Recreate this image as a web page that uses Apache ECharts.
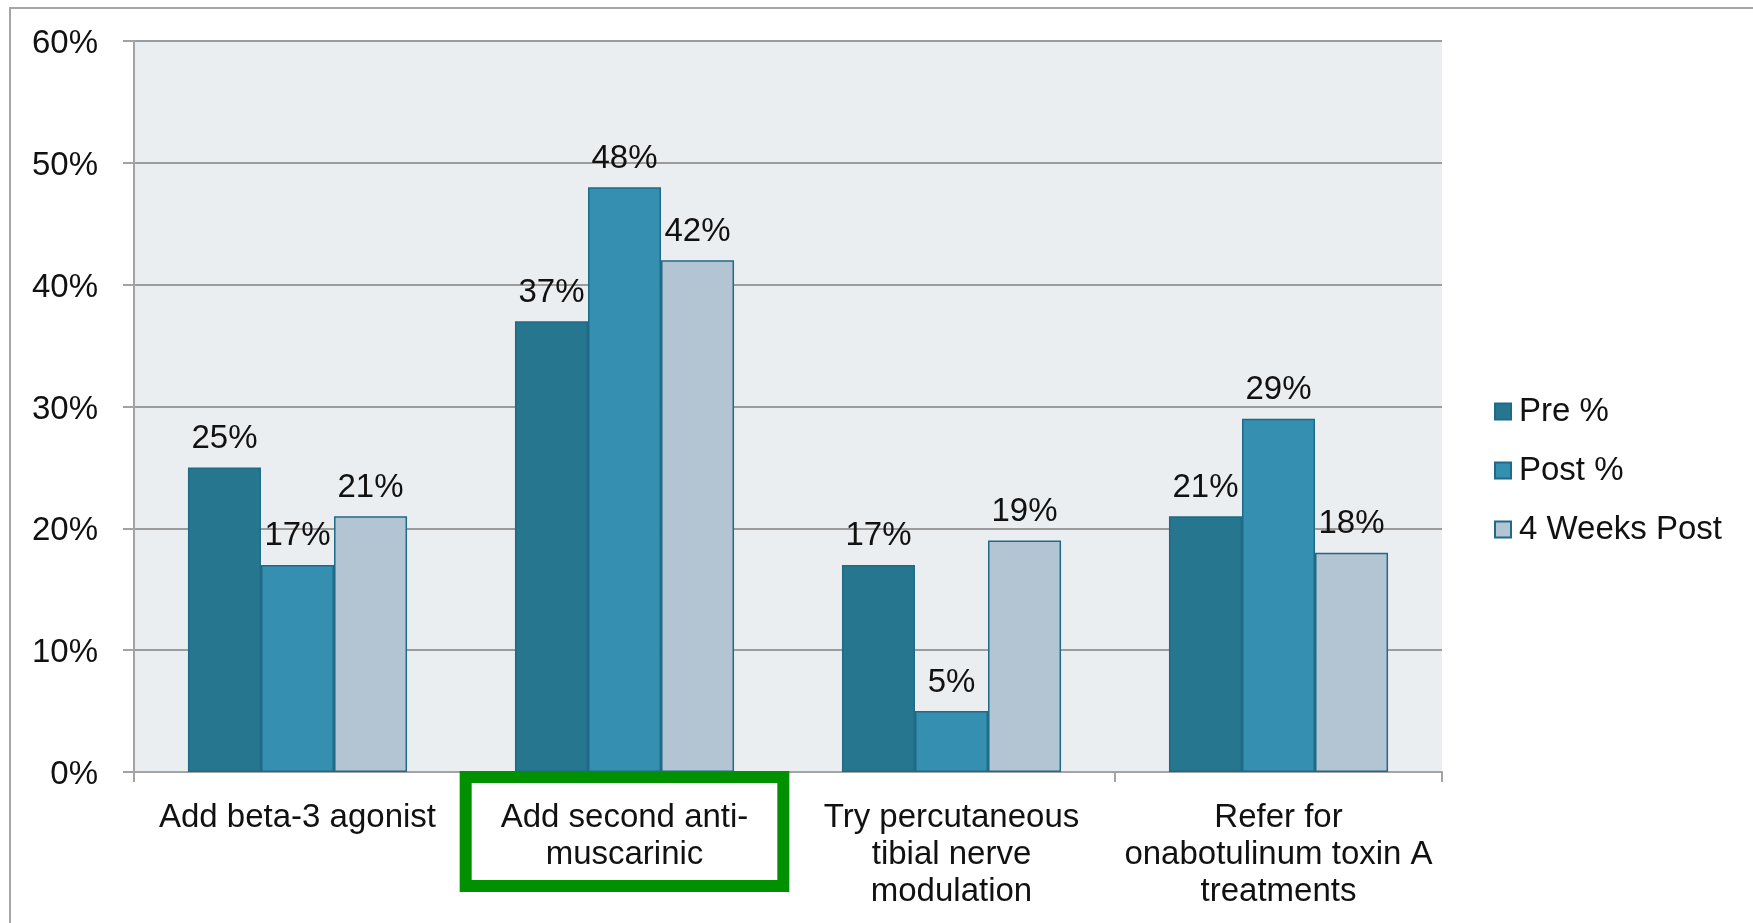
<!DOCTYPE html>
<html>
<head>
<meta charset="utf-8">
<script src="https://cdn.jsdelivr.net/npm/echarts@6/dist/echarts.min.js"></script>
<style>
  html, body { margin: 0; padding: 0; background: #ffffff; }
  #chart { width: 1753px; height: 923px; }
</style>
</head>
<body>
<div id="chart"></div>
<script>
// Treatment options shown along the x axis
const categories = [
  'Add beta-3 agonist',
  'Add second anti-\nmuscarinic',
  'Try percutaneous\ntibial nerve\nmodulation',
  'Refer for\nonabotulinum toxin A\ntreatments'
];
// Share of responses (%) per survey time point
const preValues = [25, 37, 17, 21];
const postValues = [17, 48, 5, 29];
const weeks4Values = [21, 42, 19, 18];
const seriesNames = ['Pre %', 'Post %', '4 Weeks Post'];
const yTicks = { min: 0, max: 60, interval: 10 };
const highlightedCategory = 1;

const FONT = '"Liberation Sans", Arial, sans-serif';
const TEXT = '#111111';
const BORDER = '#1F6A86';

const chart = echarts.init(document.getElementById('chart'), null, { renderer: 'canvas' });

// Category labels share one padding so the boxed one lines up with the rest
const labelPad = [16, 29, 7, 29];
const xData = categories.map((c, i) => {
  if (i !== highlightedCategory) return c;
  return {
    value: c,
    textStyle: {
      borderColor: '#009000',
      borderWidth: 12,
      backgroundColor: '#ffffff',
      padding: labelPad
    }
  };
});

function barSeries(name, values, color) {
  return {
    name: name,
    type: 'bar',
    data: values,
    barGap: '0%',
    barCategoryGap: '33%',
    itemStyle: { color: color, borderColor: BORDER, borderWidth: 1.5 },
    label: {
      show: true,
      position: 'top',
      distance: 12,
      formatter: '{c}%',
      fontFamily: FONT,
      fontSize: 33,
      color: TEXT
    }
  };
}

chart.setOption({
  animation: false,
  backgroundColor: '#ffffff',
  grid: {
    left: 134, right: 311, top: 41, bottom: 151,
    show: true, backgroundColor: '#EBEEF1', borderWidth: 0,
    outerBoundsMode: 'none'
  },
  legend: {
    orient: 'vertical',
    left: 1494, top: 395,
    padding: 0,
    itemWidth: 16, itemHeight: 16, itemGap: 26,
    icon: 'rect',
    textStyle: { fontFamily: FONT, fontSize: 33, color: TEXT, lineHeight: 32, padding: [0, 0, 0, 3] },
    data: seriesNames
  },
  xAxis: {
    type: 'category',
    data: xData,
    axisLine: { show: true, lineStyle: { color: '#A3A3A3', width: 2 } },
    axisTick: { show: true, length: 10, alignWithLabel: false, lineStyle: { color: '#A3A3A3', width: 2 } },
    axisLabel: {
      interval: 0,
      margin: 11,
      fontFamily: FONT, fontSize: 33, color: TEXT,
      lineHeight: 37,
      padding: labelPad
    },
    splitLine: { show: false }
  },
  yAxis: {
    type: 'value',
    min: yTicks.min, max: yTicks.max, interval: yTicks.interval,
    axisLine: { show: true, lineStyle: { color: '#A3A3A3', width: 2 } },
    axisTick: { show: true, length: 11, lineStyle: { color: '#A3A3A3', width: 2 } },
    axisLabel: {
      formatter: '{value}%',
      margin: 36,
      fontFamily: FONT, fontSize: 33, color: TEXT,
      // a short line box hung from the tick keeps the text sitting just below it
      verticalAlign: 'top',
      lineHeight: 6
    },
    splitLine: { show: true, lineStyle: { color: '#9C9C9C', width: 2 } }
  },
  graphic: [{
    type: 'rect',
    z: 100,
    silent: true,
    shape: { x: 10, y: 8, width: 2000, height: 2000 },
    style: { fill: 'none', stroke: '#A6A6A6', lineWidth: 2 }
  }],
  series: [
    barSeries(seriesNames[0], preValues, '#27768F'),
    barSeries(seriesNames[1], postValues, '#358FB1'),
    barSeries(seriesNames[2], weeks4Values, '#B3C4D2')
  ]
});
</script>
</body>
</html>
